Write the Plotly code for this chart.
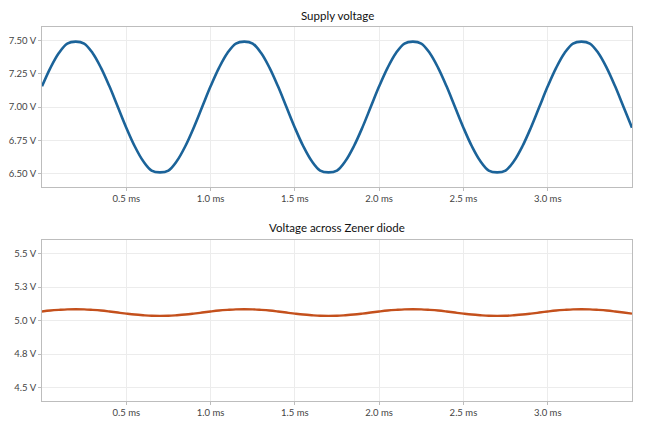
import plotly.graph_objects as go
from plotly.subplots import make_subplots

# Datos (tiempo en ms, tension en V), cada 0.05 ms
tiempo_ms = [0.00, 0.05, 0.10, 0.15, 0.20, 0.25, 0.30, 0.35, 0.40, 0.45,
             0.50, 0.55, 0.60, 0.65, 0.70, 0.75, 0.80, 0.85, 0.90, 0.95,
             1.00, 1.05, 1.10, 1.15, 1.20, 1.25, 1.30, 1.35, 1.40, 1.45,
             1.50, 1.55, 1.60, 1.65, 1.70, 1.75, 1.80, 1.85, 1.90, 1.95,
             2.00, 2.05, 2.10, 2.15, 2.20, 2.25, 2.30, 2.35, 2.40, 2.45,
             2.50, 2.55, 2.60, 2.65, 2.70, 2.75, 2.80, 2.85, 2.90, 2.95,
             3.00, 3.05, 3.10, 3.15, 3.20, 3.25, 3.30, 3.35, 3.40, 3.45,
             3.50]

tension_fuente = [7.155, 7.294, 7.405, 7.476, 7.490, 7.476, 7.405, 7.294, 7.155, 7.000,
                  6.845, 6.706, 6.595, 6.524, 6.510, 6.524, 6.595, 6.706, 6.845, 7.000,
                  7.155, 7.294, 7.405, 7.476, 7.490, 7.476, 7.405, 7.294, 7.155, 7.000,
                  6.845, 6.706, 6.595, 6.524, 6.510, 6.524, 6.595, 6.706, 6.845, 7.000,
                  7.155, 7.294, 7.405, 7.476, 7.490, 7.476, 7.405, 7.294, 7.155, 7.000,
                  6.845, 6.706, 6.595, 6.524, 6.510, 6.524, 6.595, 6.706, 6.845, 7.000,
                  7.155, 7.294, 7.405, 7.476, 7.490, 7.476, 7.405, 7.294, 7.155, 7.000,
                  6.845]

tension_zener = [5.068, 5.075, 5.080, 5.084, 5.085, 5.084, 5.080, 5.075, 5.068, 5.060,
                 5.052, 5.045, 5.040, 5.036, 5.035, 5.036, 5.040, 5.045, 5.052, 5.060,
                 5.068, 5.075, 5.080, 5.084, 5.085, 5.084, 5.080, 5.075, 5.068, 5.060,
                 5.052, 5.045, 5.040, 5.036, 5.035, 5.036, 5.040, 5.045, 5.052, 5.060,
                 5.068, 5.075, 5.080, 5.084, 5.085, 5.084, 5.080, 5.075, 5.068, 5.060,
                 5.052, 5.045, 5.040, 5.036, 5.035, 5.036, 5.040, 5.045, 5.052, 5.060,
                 5.068, 5.075, 5.080, 5.084, 5.085, 5.084, 5.080, 5.075, 5.068, 5.060,
                 5.052]

# Etiquetas de ejes
x_ticks = [0.5, 1.0, 1.5, 2.0, 2.5, 3.0]
x_labels = ["0.5 ms", "1.0 ms", "1.5 ms", "2.0 ms", "2.5 ms", "3.0 ms"]
y1_ticks = [6.5, 6.75, 7.0, 7.25, 7.5]
y1_labels = ["6.50 V", "6.75 V", "7.00 V", "7.25 V", "7.50 V"]
y2_ticks = [4.5, 4.75, 5.0, 5.25, 5.5]
y2_labels = ["4.5 V", "4.8 V", "5.0 V", "5.3 V", "5.5 V"]

titulos = ["Supply voltage", "Voltage across Zener diode"]

AZUL = "#1b6399"
NARANJA = "#c4501c"
FUENTE = "Lato, 'Open Sans', sans-serif"


def generar_grafico():
    fig = make_subplots(rows=2, cols=1)

    fig.add_trace(go.Scatter(x=tiempo_ms, y=tension_fuente, mode="lines",
                             line=dict(color=AZUL, width=2.6, shape="spline"),
                             showlegend=False), row=1, col=1)
    fig.add_trace(go.Scatter(x=tiempo_ms, y=tension_zener, mode="lines",
                             line=dict(color=NARANJA, width=2.4, shape="spline"),
                             showlegend=False), row=2, col=1)

    ejes = dict(showline=True, linecolor="#bdbdbd", linewidth=1, mirror=True,
                showgrid=True, gridcolor="#ececec", zeroline=False,
                ticks="outside", ticklen=3, tickcolor="#bdbdbd", automargin=False,
                tickfont=dict(size=9.5, color="#444444", family=FUENTE))

    fig.update_xaxes(range=[0, 3.5], tickvals=x_ticks, ticktext=x_labels, **ejes)
    fig.update_yaxes(**ejes)
    fig.update_yaxes(range=[6.4, 7.6], tickvals=y1_ticks, ticktext=y1_labels, row=1, col=1)
    fig.update_yaxes(range=[4.4, 5.6], tickvals=y2_ticks, ticktext=y2_labels, row=2, col=1)

    # Posicion de los paneles (aprox. pixeles del original)
    fig.update_layout(
        yaxis=dict(domain=[0.572, 1.0]),
        yaxis2=dict(domain=[0.0, 0.43]),
    )

    for texto, y in zip(titulos, [1.031, 0.465]):
        fig.add_annotation(text=texto, x=0.5, y=y, xref="paper", yref="paper",
                           xanchor="center", yanchor="middle", showarrow=False,
                           font=dict(size=11.5, color="#111111", family=FUENTE))

    # La pagina tiene margen en el body, se descuenta aqui
    fig.update_layout(
        width=636, height=409,
        margin=dict(l=34, r=12, t=19, b=16),
        paper_bgcolor="white", plot_bgcolor="white",
        font=dict(family=FUENTE),
    )

    fig.write_html("out.html")
    print("Listo: out.html")


if __name__ == "__main__":
    generar_grafico()
